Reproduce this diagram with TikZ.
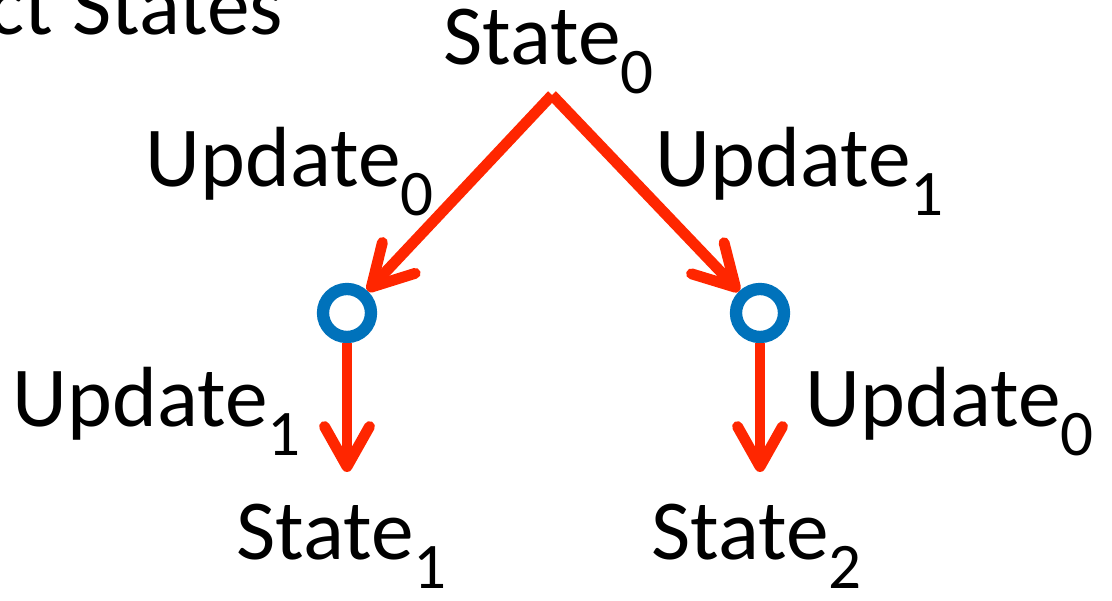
\documentclass[tikz,border=0pt]{standalone}
\usepackage{fontspec}
\setmainfont{Carlito}
\usepackage{xcolor}
\usepackage{tikz}
\usetikzlibrary{arrows.meta}
\definecolor{updred}{RGB}{255,38,0}
\definecolor{jointblue}{RGB}{0,114,187}
\newcommand{\stsub}[1]{\raisebox{-8pt}{\fontsize{18.5}{20}\selectfont #1}}
\tikzset{
  lbl/.style={inner sep=0pt, anchor=base west, font=\fontsize{24.3}{28}\selectfont},
  joint/.style={circle, draw=jointblue, fill=white, line width=3.5pt, minimum size=0.48cm, inner sep=0pt},
  upd/.style={-{Straight Barb[length=0.4cm, width=0.45cm, round]}, line width=3.1pt, draw=updred}
}

\begin{document}
\begin{tikzpicture}
  \useasboundingbox (0,0) rectangle (11.12,6.01);
  % Heading (cut off at the left edge)
  \node[lbl] (title) at (-0.12,5.66) {ct States};

  % States
  \node[lbl] (S0) at (4.43,5.36) {State\stsub{0}};
  \node[lbl] (S1) at (2.36,0.41) {State\stsub{1}};
  \node[lbl] (S2) at (6.51,0.41) {State\stsub{2}};

  % Intermediate points
  \coordinate (top) at (5.52,5.06);
  \node[joint] (C1) at (3.47,2.88) {};
  \node[joint] (C2) at (7.60,2.88) {};
  \coordinate (E1) at (3.47,1.29);
  \coordinate (E2) at (7.60,1.29);

  % Updates (order differs on the two sides)
  \draw[upd] (top) -- (C1);
  \draw[upd] (top) -- (C2);
  \draw[upd] (C1) -- (E1);
  \draw[upd] (C2) -- (E2);

  % Update labels
  \node[lbl] (U0a) at (1.45,4.14) {Update\stsub{0}};
  \node[lbl] (U1a) at (6.55,4.14) {Update\stsub{1}};
  \node[lbl] (U1b) at (0.12,1.74) {Update\stsub{1}};
  \node[lbl] (U0b) at (8.05,1.74) {Update\stsub{0}};
\end{tikzpicture}
\end{document}
